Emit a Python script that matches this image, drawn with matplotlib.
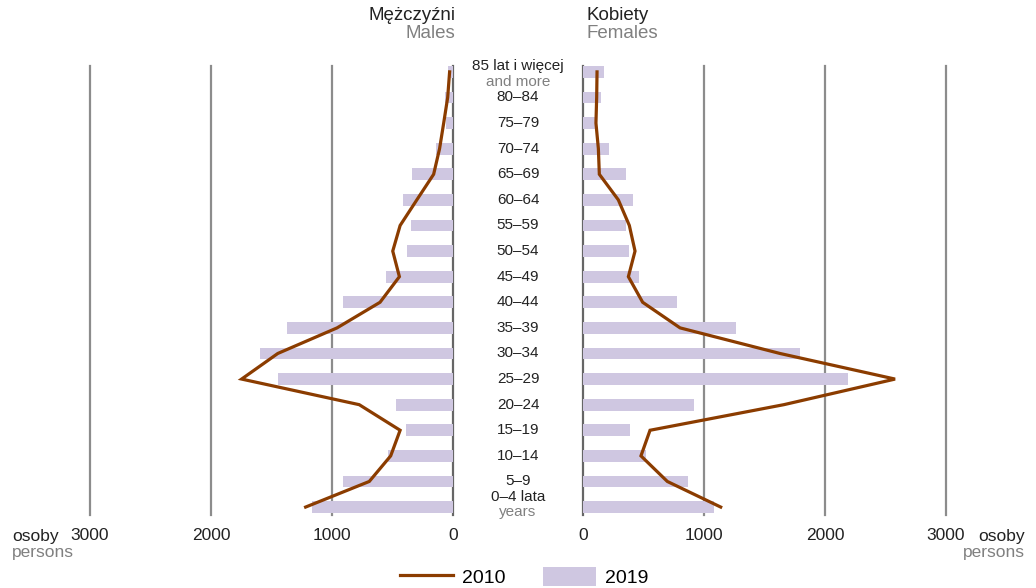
import matplotlib
matplotlib.use("Agg")
import matplotlib.pyplot as plt
from matplotlib.lines import Line2D
from matplotlib.patches import Patch

# age groups, bottom (0-4) to top (85+)
ages_pl = ["0–4 lata", "5–9", "10–14", "15–19", "20–24", "25–29", "30–34", "35–39",
           "40–44", "45–49", "50–54", "55–59", "60–64", "65–69", "70–74", "75–79",
           "80–84", "85 lat i więcej"]

# 2019 (bars)
males_2019 = [1168, 911, 537, 388, 471, 1443, 1592, 1376, 911, 554, 379, 346, 413, 338, 144, 55, 64, 40]
females_2019 = [1083, 868, 521, 388, 917, 2190, 1793, 1264, 777, 463, 380, 355, 413, 355, 215, 107, 149, 174]

# 2010 (line)
males_2010 = [1218, 692, 515, 437, 775, 1747, 1448, 958, 603, 443, 498, 437, 299, 160, 111, 77, 44, 28]
females_2010 = [1138, 697, 479, 554, 1660, 2579, 1628, 802, 493, 375, 430, 383, 292, 135, 127, 107, 113, 116]

ticks = [0, 1000, 2000, 3000]

bar_col = "#cfc7e1"
line_col = "#8b3c00"
grid_col = "#8c8c8c"
dark = "#222222"
gray = "#808080"
font = ["Liberation Sans", "DejaVu Sans"]

W, H = 1036, 588
fig = plt.figure(figsize=(W / 100, H / 100), dpi=100)

y = list(range(len(ages_pl)))
bottom = 1 - 515 / H
height = (515 - 66) / H
axL = fig.add_axes([90 / W, bottom, 363 / W, height])
axR = fig.add_axes([583 / W, bottom, 363 / W, height])

for ax, bars, line, xl in [(axL, males_2019, males_2010, (3000, 0)),
                           (axR, females_2019, females_2010, (0, 3000))]:
    for t in ticks:
        ax.axvline(t, color=grid_col if t else "#666666", lw=1.6, clip_on=False, zorder=1)
    ax.barh(y, bars, height=0.46, color=bar_col, zorder=2)
    ax.plot(line, y, color=line_col, lw=2.3, zorder=3, solid_joinstyle="miter")
    ax.set_xlim(*xl)
    ax.set_ylim(-0.31, 17.23)
    ax.axis("off")

fig.canvas.draw()

# tick labels below
ty = 1 - 536 / H
for ax in (axL, axR):
    for t in ticks:
        xp = ax.transData.transform((t, 0))[0] / fig.bbox.width
        fig.text(xp, ty, str(t), ha="center", va="center", fontsize=12.5,
                 family=font, color=dark)

fig.text(12 / W, ty, "osoby", ha="left", va="center", fontsize=12.5, family=font, color=dark)
fig.text(12 / W, 1 - 552 / H, "persons", ha="left", va="center", fontsize=12.5, family=font, color=gray)
fig.text(1025 / W, ty, "osoby", ha="right", va="center", fontsize=12.5, family=font, color=dark)
fig.text(1025 / W, 1 - 552 / H, "persons", ha="right", va="center", fontsize=12.5, family=font, color=gray)

# age labels in the middle
xc = 518 / W
for i, lab in enumerate(ages_pl):
    yp = axL.transData.transform((0, i))[1] / fig.bbox.height
    if i == len(ages_pl) - 1:
        fig.text(xc, yp + 6 / H, lab, ha="center", va="center", fontsize=11, family=font, color=dark)
        fig.text(xc, yp - 10 / H, "and more", ha="center", va="center", fontsize=11, family=font, color=gray)
    elif i == 0:
        fig.text(xc, yp + 10 / H, lab, ha="center", va="center", fontsize=11, family=font, color=dark)
        fig.text(xc, yp - 5 / H, "years", ha="center", va="center", fontsize=11, family=font, color=gray)
    else:
        fig.text(xc, yp, lab, ha="center", va="center", fontsize=11, family=font, color=dark)

# headers
fig.text(455 / W, 1 - 15 / H, "Mężczyźni", ha="right", va="center", fontsize=13.5, family=font, color=dark)
fig.text(455 / W, 1 - 33 / H, "Males", ha="right", va="center", fontsize=13.5, family=font, color=gray)
fig.text(586 / W, 1 - 15 / H, "Kobiety", ha="left", va="center", fontsize=13.5, family=font, color=dark)
fig.text(586 / W, 1 - 33 / H, "Females", ha="left", va="center", fontsize=13.5, family=font, color=gray)

handles = [Line2D([], [], color=line_col, lw=2.3), Patch(facecolor=bar_col, edgecolor="none")]
fig.legend(handles, ["2010", "2019"], loc="center", bbox_to_anchor=(0.5 + 6 / W, 1 - 577 / H),
           ncol=2, frameon=False, handlelength=2.75, handleheight=1.13, columnspacing=1.9,
           handletextpad=0.45, borderaxespad=0, prop={"family": font, "size": 14})

fig.savefig("out.png", dpi=100)
